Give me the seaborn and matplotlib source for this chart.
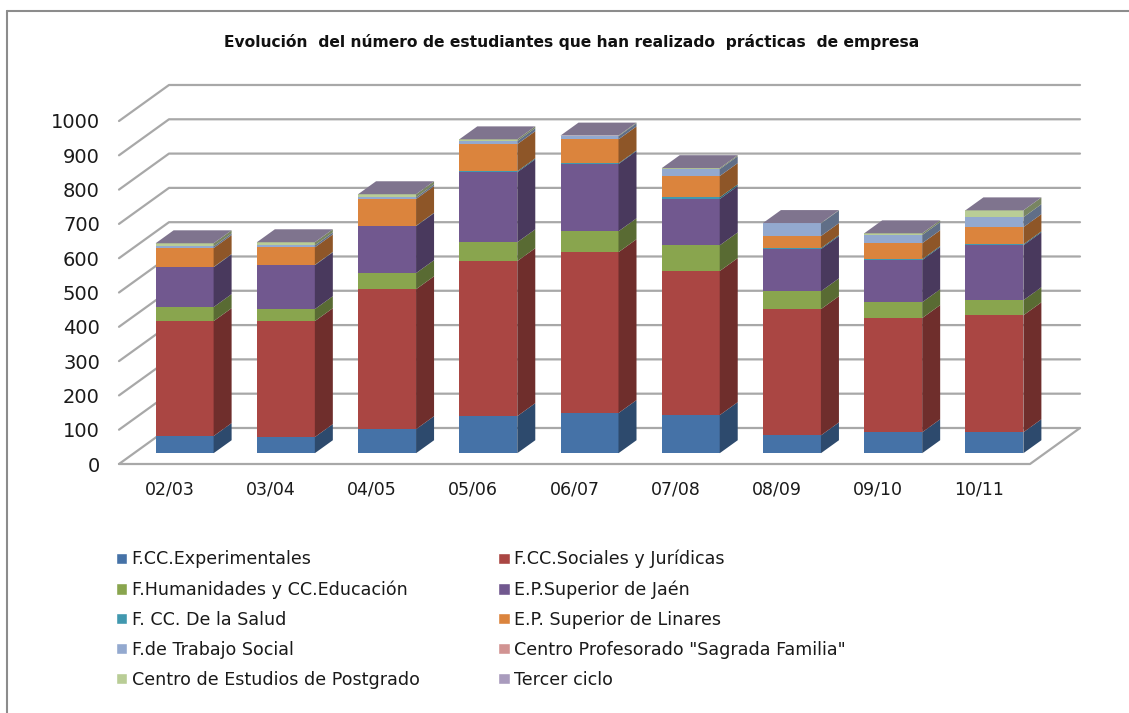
#!/usr/bin/env python

import numpy as np
import pandas as pd
import matplotlib
matplotlib.use("Agg")
import matplotlib.pyplot as plt
from matplotlib.lines import Line2D
from matplotlib.patches import Patch, Polygon
from matplotlib.colors import to_rgb
import seaborn as sns

cursos = ["02/03", "03/04", "04/05", "05/06", "06/07", "07/08", "08/09", "09/10", "10/11"]

experimentales = [50, 47, 70, 108, 117, 111, 52, 61, 61]
sociales = [335, 338, 408, 452, 469, 420, 368, 333, 341]
humanidades = [41, 35, 47, 55, 61, 75, 52, 46, 44]
ep_jaen = [116, 128, 137, 204, 196, 135, 123, 123, 160]
salud = [1, 1, 1, 3, 2, 5, 3, 3, 3]
ep_linares = [55, 51, 78, 79, 70, 62, 35, 46, 50]
trabajo_social = [5, 6, 5, 9, 9, 20, 37, 24, 29]
sagrada_familia = [0, 0, 0, 0, 0, 0, 0, 0, 0]
postgrado = [9, 9, 9, 5, 2, 3, 1, 5, 20]
tercer_ciclo = [0, 0, 0, 0, 0, 0, 0, 0, 0]

series = [
    ("F.CC.Experimentales", experimentales, "#4572A7"),
    ("F.CC.Sociales y Jurídicas", sociales, "#AA4643"),
    ("F.Humanidades y CC.Educación", humanidades, "#89A54E"),
    ("E.P.Superior de Jaén", ep_jaen, "#71588F"),
    ("F. CC. De la Salud", salud, "#4198AF"),
    ("E.P. Superior de Linares", ep_linares, "#DB843D"),
    ("F.de Trabajo Social", trabajo_social, "#93A9CF"),
    ('Centro Profesorado "Sagrada Familia"', sagrada_familia, "#D19392"),
    ("Centro de Estudios de Postgrado", postgrado, "#B9CD96"),
    ("Tercer ciclo", tercer_ciclo, "#A99BBD"),
]

W, H = 1129, 713
# depth of the fake 3D floor, in data units
DEPTH_X = 0.494
DEPTH_Y = 105
BAR_FRONT = 0.30
BAR_DEPTH = 0.36
BAR_WIDTH = 0.573


def shade(color, factor):
    return tuple(c * factor for c in to_rgb(color))


def project(x, v, z):
    return x + z * DEPTH_X, v + z * DEPTH_Y


sns.set_theme(style="white")
plt.rcParams["font.family"] = ["DejaVu Sans"]

fig = plt.figure(figsize=(W / 100, H / 100), dpi=100)
ax = fig.add_axes([119 / W, 1 - 464 / H, (1030 - 119) / W, (464 - 121) / H])

# chart frame, only top and left show in the screenshot
frame = "#8C8C8C"
fig.add_artist(Line2D([7 / W, 1], [1 - 11 / H, 1 - 11 / H], color=frame, lw=1.5))
fig.add_artist(Line2D([7 / W, 7 / W], [0, 1 - 11 / H], color=frame, lw=1.5))

# walls and floor
yticks = np.arange(0, 1001, 100)
grid = "#A8A8A8"
for v in yticks:
    x0, y0 = project(-0.5, v, 0)
    x1, y1 = project(-0.5, v, 1)
    x2, y2 = project(8.5, v, 1)
    ax.plot([x0, x1, x2], [y0, y1, y2], color=grid, lw=1.6, clip_on=False, zorder=0.5)
x0, y0 = project(8.5, 0, 0)
x1, y1 = project(8.5, 0, 1)
ax.plot([-0.5, x0, x1], [0, y0, y1], color=grid, lw=1.6, clip_on=False, zorder=0.5)

# bars
pos = np.arange(len(cursos))
front_x, front_y = project(pos, np.zeros(len(cursos)), BAR_FRONT)
bottom = np.zeros(len(cursos))
for name, values, color in series:
    values = np.array(values, dtype=float)
    df = pd.DataFrame({"x": front_x, "y": values})
    sns.barplot(data=df, x="x", y="y", bottom=front_y + bottom, native_scale=True,
                width=BAR_WIDTH, color=color, saturation=1, errorbar=None,
                linewidth=0, ax=ax, zorder=2)
    side = shade(color, 0.65)
    for i in pos:
        if values[i] <= 0:
            continue
        xr = front_x[i] + BAR_WIDTH / 2
        lo = front_y[i] + bottom[i]
        hi = lo + values[i]
        dx = BAR_DEPTH * DEPTH_X
        dy = BAR_DEPTH * DEPTH_Y
        ax.add_patch(Polygon([(xr, lo), (xr + dx, lo + dy), (xr + dx, hi + dy), (xr, hi)],
                             closed=True, facecolor=side, edgecolor="none",
                             clip_on=False, zorder=2))
    bottom = bottom + values

# top of each column takes the colour of the last series
top_color = shade(series[-1][2], 0.75)
for i in pos:
    xl = front_x[i] - BAR_WIDTH / 2
    xr = front_x[i] + BAR_WIDTH / 2
    hi = front_y[i] + bottom[i]
    dx = BAR_DEPTH * DEPTH_X
    dy = BAR_DEPTH * DEPTH_Y
    ax.add_patch(Polygon([(xl, hi), (xr, hi), (xr + dx, hi + dy), (xl + dx, hi + dy)],
                         closed=True, facecolor=top_color, edgecolor="none",
                         clip_on=False, zorder=2))

ax.set_xlim(-0.5, 8.5)
ax.set_ylim(0, 1000)
ax.set_xticks(pos)
ax.set_xticklabels(cursos)
ax.set_yticks(yticks)
ax.set_xlabel("")
ax.set_ylabel("")
ax.tick_params(axis="x", length=0, pad=12, labelsize=12.5, labelcolor="#1a1a1a")
ax.tick_params(axis="y", length=0, pad=13.7, labelsize=14, labelcolor="#1a1a1a")
sns.despine(ax=ax, left=True, bottom=True)
ax.patch.set_visible(False)

fig.text(572 / W, 1 - 42 / H, "Evolución  del número de estudiantes que han realizado  prácticas  de empresa",
         ha="center", va="center", fontsize=11.15, fontweight="bold", color="#111111")

# legend is filled row by row in the original
order = list(range(0, 10, 2)) + list(range(1, 10, 2))
handles = [Patch(facecolor=series[i][2], label=series[i][0]) for i in order]
fig.legend(handles=handles, ncol=2, loc="upper left", bbox_to_anchor=(116 / W, 1 - 550 / H),
           frameon=False, fontsize=12.6, borderpad=0, borderaxespad=0,
           handlelength=0.65, handleheight=0.65, handletextpad=0.25,
           labelspacing=0.68, columnspacing=4.5, labelcolor="#1a1a1a")

fig.savefig("out.png", dpi=100)
plt.close(fig)
